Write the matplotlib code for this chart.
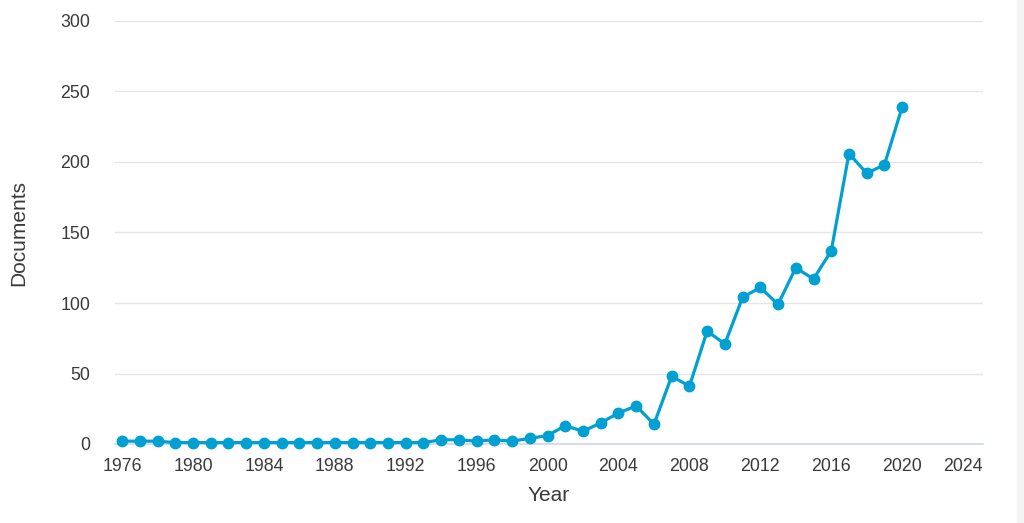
import matplotlib
matplotlib.use("Agg")
import matplotlib.pyplot as plt
from matplotlib.transforms import ScaledTranslation
from matplotlib.patches import Rectangle

# Documents per year
years = list(range(1976, 2021))
documents = [2, 2, 2, 1, 1, 1, 1, 1, 1, 1, 1, 1, 1, 1, 1, 1, 1, 1,
             3, 3, 2, 3, 2, 4, 6, 13, 9, 15, 22, 27, 14, 48, 41, 80,
             71, 104, 111, 99, 125, 117, 137, 206, 192, 198, 239]

x_ticks = list(range(1976, 2025, 4))
y_ticks = [0, 50, 100, 150, 200, 250, 300]

plt.rcParams['font.family'] = ['Liberation Sans', 'DejaVu Sans']

fig = plt.figure(figsize=(10.24, 5.23), dpi=100)
ax = fig.add_axes([115 / 1024, 1 - 444 / 523, 868 / 1024, 423 / 523])

line_color = '#00a0d2'
ax.plot(years, documents, color=line_color, lw=2.3, marker='o', ms=7.5,
        clip_on=False, zorder=3)

ax.set_xlim(1975.6, 2024.56)
ax.set_ylim(0, 300)
ax.set_xticks(x_ticks)
ax.set_yticks(y_ticks)

ax.grid(axis='y', color='#e6e6e6', lw=1)
ax.set_axisbelow(True)
for side in ['top', 'right', 'left']:
    ax.spines[side].set_visible(False)
ax.spines['bottom'].set_color('#ccd6eb')
ax.spines['bottom'].set_linewidth(1.2)

ax.tick_params(axis='both', length=0, labelsize=12.8, labelcolor='#3a3a3a')
ax.tick_params(axis='y', pad=18)
ax.tick_params(axis='x', pad=10)

ax.set_xlabel('Year', fontsize=15, color='#3a3a3a', labelpad=8)
ax.set_ylabel('Documents', fontsize=15, color='#3a3a3a', labelpad=23)

# last label is pushed left so it stays inside the plot area
last = ax.get_xticklabels()[-1]
last.set_transform(last.get_transform() + ScaledTranslation(-10 / 100, 0, fig.dpi_scale_trans))

# light border strip on the right of the screenshot
fig.patches.append(Rectangle((1017 / 1024, 0), 7 / 1024, 1, transform=fig.transFigure,
                             color='#f4f4f4', zorder=0))

fig.savefig('out.png', dpi=100)
